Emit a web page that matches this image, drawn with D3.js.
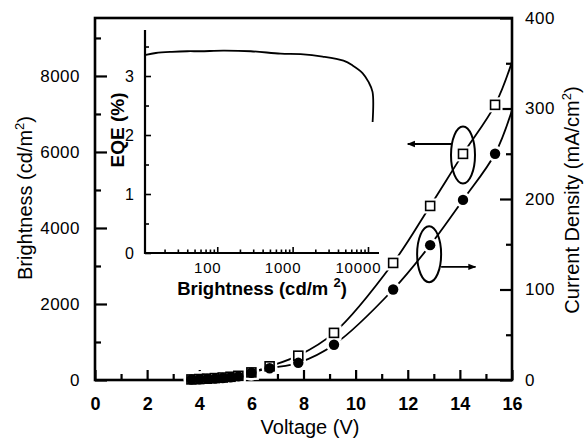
<!DOCTYPE html>
<html>
<head>
<meta charset="utf-8">
<script src="https://cdn.jsdelivr.net/npm/d3@7"></script>
<style>
    body { margin: 0; background: #fff; }
    svg { font-family: "Liberation Sans", Arial, sans-serif; }
    .axis path, .axis line { stroke: #000; }
    .axis text { fill: #000; }
</style>
</head>
<body>
<svg id="chart" width="585" height="439"></svg>
<script>
// main plot data
var voltage = [3.7, 4.0, 4.3, 4.6, 4.9, 5.2, 5.5, 6.0, 6.7, 7.8, 9.17, 11.44, 12.86, 14.12, 15.35];
var brightness = [15, 25, 35, 50, 65, 85, 110, 200, 360, 640, 1240, 3080, 4580, 5950, 7240];
var currentDensity = [0.5, 0.8, 1.2, 1.6, 2.2, 3, 4, 8, 13, 19, 39, 100, 149, 199, 250];

// fitted curves run on to the right axis
var curveEndV = 16;
var brightnessEnd = 8370;
var currentEnd = 298;

// inset: EQE vs brightness
var eqeBrightness = [11.3, 15.3, 25, 40, 60, 120, 278, 693, 1277, 2500, 4730, 6240, 8460, 10160, 11490, 11520];
var eqeValues = [3.36, 3.39, 3.41, 3.42, 3.42, 3.43, 3.42, 3.38, 3.37, 3.33, 3.26, 3.18, 3.05, 2.90, 2.73, 2.22];

// tick values
var xTicks = [0, 2, 4, 6, 8, 10, 12, 14, 16];
var xMinor = [1, 3, 5, 7, 9, 11, 13, 15];
var leftTicks = [0, 2000, 4000, 6000, 8000];
var leftMinor = [1000, 3000, 5000, 7000, 9000];
var rightTicks = [0, 100, 200, 300, 400];
var rightMinor = [50, 150, 250, 350];
var insetYTicks = [0, 1, 2, 3];
var insetYMinor = [0.5, 1.5, 2.5, 3.5];
var insetXTicks = [100, 1000, 10000];

var svg = d3.select("#chart");

// main plot area
var plot = { "left": 95, "right": 512, "top": 18, "bottom": 380 };

var x = d3.scaleLinear().domain([0, 16]).range([plot.left, plot.right]);
var yLeft = d3.scaleLinear().domain([0, 9525]).range([plot.bottom, plot.top]);
var yRight = d3.scaleLinear().domain([0, 400]).range([plot.bottom, plot.top]);

// inset area
var inset = { "left": 145, "right": 379, "top": 30, "bottom": 253 };
var xi = d3.scaleLog().domain([11, 14000]).range([inset.left, inset.right]);
var yi = d3.scaleLinear().domain([0, 3.78]).range([inset.bottom, inset.top]);

// ---- main axes ----
var gx = svg.append("g")
    .attr("class", "axis")
    .attr("transform", "translate(0," + plot.bottom + ")")
    .call(d3.axisBottom(x).tickValues(xTicks).tickSize(-10).tickPadding(17).tickFormat(d3.format("d")));
gx.selectAll("text").style("font-size", "18px").style("font-weight", "bold");
svg.append("g")
    .attr("class", "axis")
    .attr("transform", "translate(0," + plot.bottom + ")")
    .call(d3.axisBottom(x).tickValues(xMinor).tickSize(-6).tickFormat(""));

var gl = svg.append("g")
    .attr("class", "axis")
    .attr("transform", "translate(" + plot.left + ",0)")
    .call(d3.axisLeft(yLeft).tickValues(leftTicks).tickSize(-12).tickPadding(15).tickFormat(d3.format("d")));
gl.selectAll("text").style("font-size", "17px").style("letter-spacing", "0.5px");
svg.append("g")
    .attr("class", "axis")
    .attr("transform", "translate(" + plot.left + ",0)")
    .call(d3.axisLeft(yLeft).tickValues(leftMinor).tickSize(-6).tickFormat(""));

var gr = svg.append("g")
    .attr("class", "axis")
    .attr("transform", "translate(" + plot.right + ",0)")
    .call(d3.axisRight(yRight).tickValues(rightTicks).tickSize(-12).tickPadding(13).tickFormat(d3.format("d")));
gr.selectAll("text").style("font-size", "17px").style("letter-spacing", "0.5px");
svg.append("g")
    .attr("class", "axis")
    .attr("transform", "translate(" + plot.right + ",0)")
    .call(d3.axisRight(yRight).tickValues(rightMinor).tickSize(-6).tickFormat(""));

svg.selectAll(".axis line").attr("stroke-width", 2.2);
svg.selectAll(".axis .domain").remove();

// frame
svg.append("rect")
    .attr("x", plot.left).attr("y", plot.top)
    .attr("width", plot.right - plot.left).attr("height", plot.bottom - plot.top)
    .attr("fill", "none").attr("stroke", "#000").attr("stroke-width", 2.6);

// ---- inset axes ----
var gix = svg.append("g")
    .attr("class", "axis inset")
    .attr("transform", "translate(0," + inset.bottom + ")")
    .call(d3.axisBottom(xi).tickValues(insetXTicks).tickSize(-6).tickPadding(9).tickFormat(d3.format("d")));
gix.selectAll("text").style("font-size", "15px").style("letter-spacing", "0.9px").attr("dx", -10);

var logMinor = [];
[10, 100, 1000].forEach(function(dec) {
    for (var k = 2; k <= 9; k++) logMinor.push(dec * k);
});
svg.append("g")
    .attr("class", "axis inset")
    .attr("transform", "translate(0," + inset.bottom + ")")
    .call(d3.axisBottom(xi).tickValues(logMinor).tickSize(-3.5).tickFormat(""));

var giy = svg.append("g")
    .attr("class", "axis inset")
    .attr("transform", "translate(" + inset.left + ",0)")
    .call(d3.axisLeft(yi).tickValues(insetYTicks).tickSize(-6).tickPadding(11).tickFormat(d3.format("d")));
giy.selectAll("text").style("font-size", "16px");
svg.append("g")
    .attr("class", "axis inset")
    .attr("transform", "translate(" + inset.left + ",0)")
    .call(d3.axisLeft(yi).tickValues(insetYMinor).tickSize(-4).tickFormat(""));

svg.selectAll(".inset line").attr("stroke-width", 1.6);
svg.selectAll(".inset .domain").remove();

svg.append("path")
    .attr("d", "M" + inset.left + "," + inset.top + "V" + inset.bottom + "H" + inset.right)
    .attr("fill", "none").attr("stroke", "#000").attr("stroke-width", 2.2);

// EQE curve
var eqeLine = d3.line()
    .x(function(d, i) { return xi(eqeBrightness[i]); })
    .y(function(d) { return yi(d); })
    .curve(d3.curveCatmullRom.alpha(0.5));
svg.append("path")
    .attr("d", eqeLine(eqeValues))
    .attr("fill", "none").attr("stroke", "#000").attr("stroke-width", 1.8);

// ---- main curves ----
var bLineV = voltage.concat([curveEndV]);
var bLineY = brightness.concat([brightnessEnd]);
var jLineY = currentDensity.concat([currentEnd]);

var bLine = d3.line()
    .x(function(d, i) { return x(bLineV[i]); })
    .y(function(d) { return yLeft(d); })
    .curve(d3.curveCatmullRom.alpha(0.5));
var jLine = d3.line()
    .x(function(d, i) { return x(bLineV[i]); })
    .y(function(d) { return yRight(d); })
    .curve(d3.curveCatmullRom.alpha(0.5));

svg.append("path").attr("d", bLine(bLineY))
    .attr("fill", "none").attr("stroke", "#000").attr("stroke-width", 1.8);
svg.append("path").attr("d", jLine(jLineY))
    .attr("fill", "none").attr("stroke", "#000").attr("stroke-width", 1.8);

// white halos break the line at each marker
var sq = 9;
svg.append("g").selectAll("rect")
    .data(voltage).enter().append("rect")
    .attr("x", function(d) { return x(d) - sq / 2 - 3; })
    .attr("y", function(d, i) { return yLeft(brightness[i]) - sq / 2 - 3; })
    .attr("width", sq + 6).attr("height", sq + 6)
    .attr("fill", "#fff");
svg.append("g").selectAll("circle")
    .data(voltage).enter().append("circle")
    .attr("cx", function(d) { return x(d); })
    .attr("cy", function(d, i) { return yRight(currentDensity[i]); })
    .attr("r", 8)
    .attr("fill", "#fff");

// brightness markers: open squares
svg.append("g").selectAll("rect")
    .data(voltage).enter().append("rect")
    .attr("x", function(d) { return x(d) - sq / 2; })
    .attr("y", function(d, i) { return yLeft(brightness[i]) - sq / 2; })
    .attr("width", sq).attr("height", sq)
    .attr("fill", "#fff").attr("stroke", "#000").attr("stroke-width", 1.6);

// current density markers: filled circles
svg.append("g").selectAll("circle")
    .data(voltage).enter().append("circle")
    .attr("cx", function(d) { return x(d); })
    .attr("cy", function(d, i) { return yRight(currentDensity[i]); })
    .attr("r", 5.2)
    .attr("fill", "#000");

// ---- ellipses and arrows ----
var defs = svg.append("defs");
defs.append("marker")
    .attr("id", "head")
    .attr("viewBox", "0 0 10 10")
    .attr("refX", 9).attr("refY", 5)
    .attr("markerWidth", 8).attr("markerHeight", 8)
    .attr("markerUnits", "userSpaceOnUse")
    .attr("orient", "auto")
    .append("path").attr("d", "M0,1L10,5L0,9Z").attr("fill", "#000");

svg.append("ellipse")
    .attr("cx", x(14.12)).attr("cy", yLeft(5920))
    .attr("rx", 12).attr("ry", 28.5)
    .attr("fill", "none").attr("stroke", "#000").attr("stroke-width", 2);
svg.append("line")
    .attr("x1", x(14.12) - 12).attr("y1", yLeft(6210))
    .attr("x2", x(12.0)).attr("y2", yLeft(6210))
    .attr("stroke", "#000").attr("stroke-width", 1.8)
    .attr("marker-end", "url(#head)");

svg.append("ellipse")
    .attr("cx", x(12.82)).attr("cy", yRight(139))
    .attr("rx", 12).attr("ry", 28)
    .attr("fill", "none").attr("stroke", "#000").attr("stroke-width", 2);
svg.append("line")
    .attr("x1", x(12.82) + 12).attr("y1", yRight(125))
    .attr("x2", x(14.6)).attr("y2", yRight(125))
    .attr("stroke", "#000").attr("stroke-width", 1.8)
    .attr("marker-end", "url(#head)");

// ---- titles ----
svg.append("text")
    .attr("x", 310).attr("y", 434)
    .attr("text-anchor", "middle")
    .style("font-size", "20px")
    .text("Voltage (V)");

function supTitle(sel, main, tail) {
    sel.append("tspan").text(main);
    sel.append("tspan").attr("dy", -8).style("font-size", "13px").text("2");
    sel.append("tspan").attr("dy", 8).text(tail);
}

var lt = svg.append("text")
    .attr("transform", "translate(32,198) rotate(-90)")
    .attr("text-anchor", "middle")
    .style("font-size", "20px");
supTitle(lt, "Brightness (cd/m", ")");

var rt = svg.append("text")
    .attr("transform", "translate(579,200) rotate(-90)")
    .attr("text-anchor", "middle")
    .style("font-size", "20px");
supTitle(rt, "Current Density (mA/cm", ")");

var it = svg.append("text")
    .attr("transform", "translate(124,130) rotate(-90)")
    .attr("text-anchor", "middle")
    .style("font-size", "19px").style("font-weight", "bold")
    .text("EQE (%)");

var ib = svg.append("text")
    .attr("x", 262).attr("y", 295)
    .attr("text-anchor", "middle")
    .style("font-size", "18.5px").style("font-weight", "bold");
supTitle(ib, "Brightness (cd/m ", ")");
</script>
</body>
</html>
